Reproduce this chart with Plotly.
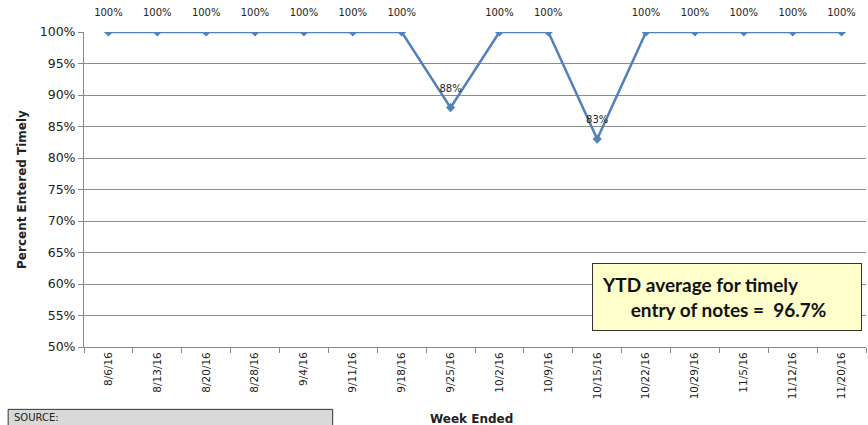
import plotly.graph_objects as go

weeks = ['8/6/16', '8/13/16', '8/20/16', '8/28/16', '9/4/16', '9/11/16', '9/18/16', '9/25/16',
         '10/2/16', '10/9/16', '10/15/16', '10/22/16', '10/29/16', '11/5/16', '11/12/16', '11/20/16']
pct_timely = [1.00, 1.00, 1.00, 1.00, 1.00, 1.00, 1.00, 0.88,
              1.00, 1.00, 0.83, 1.00, 1.00, 1.00, 1.00, 1.00]
ytd_avg = 0.967

fig = go.Figure()

# line with diamond markers
fig.add_trace(go.Scatter(
    x=weeks,
    y=pct_timely,
    mode='lines+markers',
    line=dict(color='#4F81BD', width=2.5),
    marker=dict(symbol='diamond', size=7, color='#4F81BD'),
    showlegend=False
))

# data labels (invisible big markers push the text up a bit)
fig.add_trace(go.Scatter(
    x=weeks,
    y=pct_timely,
    mode='markers+text',
    marker=dict(size=20, opacity=0),
    text=[f'{v:.0%}' for v in pct_timely],
    textposition='top center',
    textfont=dict(family='DejaVu Sans', size=10, color='#222'),
    cliponaxis=False,
    hoverinfo='skip',
    showlegend=False
))

fig.update_layout(
    width=868, height=425,
    margin=dict(l=84, r=2, t=32, b=78),
    plot_bgcolor='white',
    paper_bgcolor='white',
    font=dict(family='DejaVu Sans', color='#222'),
    xaxis=dict(
        type='category',
        tickangle=-90,
        tickfont=dict(size=10.5),
        showgrid=False,
        showline=True, linecolor='#888', linewidth=1,
        ticks='outside', tickcolor='#888', ticklen=5,
        tickson='boundaries',
        range=[-0.5, 15.5],
        automargin=False
    ),
    yaxis=dict(
        range=[0.5, 1.0],
        dtick=0.05,
        tickformat='.0%',
        tickfont=dict(size=12.5),
        showgrid=True, gridcolor='#8c8c8c', gridwidth=1,
        showline=True, linecolor='#888', linewidth=1,
        ticks='outside', tickcolor='#888', ticklen=5,
        zeroline=False,
        automargin=False,
        title=dict(text='<b>Percent Entered Timely</b>', font=dict(size=12), standoff=10)
    )
)

# x axis title placed low, as in the original
fig.add_annotation(
    text='<b>Week Ended</b>', xref='paper', yref='paper', x=0.495, y=-0.2,
    xanchor='center', yanchor='top', showarrow=False, font=dict(size=12)
)

# YTD average box
fig.add_annotation(
    text=f'<b>YTD average for timely</b><br><b>      entry of notes =  {ytd_avg:.1%}</b>',
    xref='paper', yref='paper', x=0.65, y=0.268,
    xanchor='left', yanchor='top', showarrow=False, align='left',
    width=250, height=48, valign='middle',
    font=dict(family='Lato', size=19, color='#111'),
    bgcolor='#FFFFCC', bordercolor='#333', borderwidth=1, borderpad=9
)

# source box at bottom left
fig.add_shape(type='rect', xref='paper', yref='paper',
              x0=-0.097, x1=0.318, y0=-0.29, y1=-0.198,
              fillcolor='#D9D9D9', line=dict(color='#333', width=1))
fig.add_annotation(
    text='SOURCE:', xref='paper', yref='paper', x=-0.092, y=-0.2,
    xanchor='left', yanchor='top', showarrow=False, font=dict(size=10)
)

fig.write_html("out.html", config={'displayModeBar': False},
               post_script="document.body.style.margin='0';")
